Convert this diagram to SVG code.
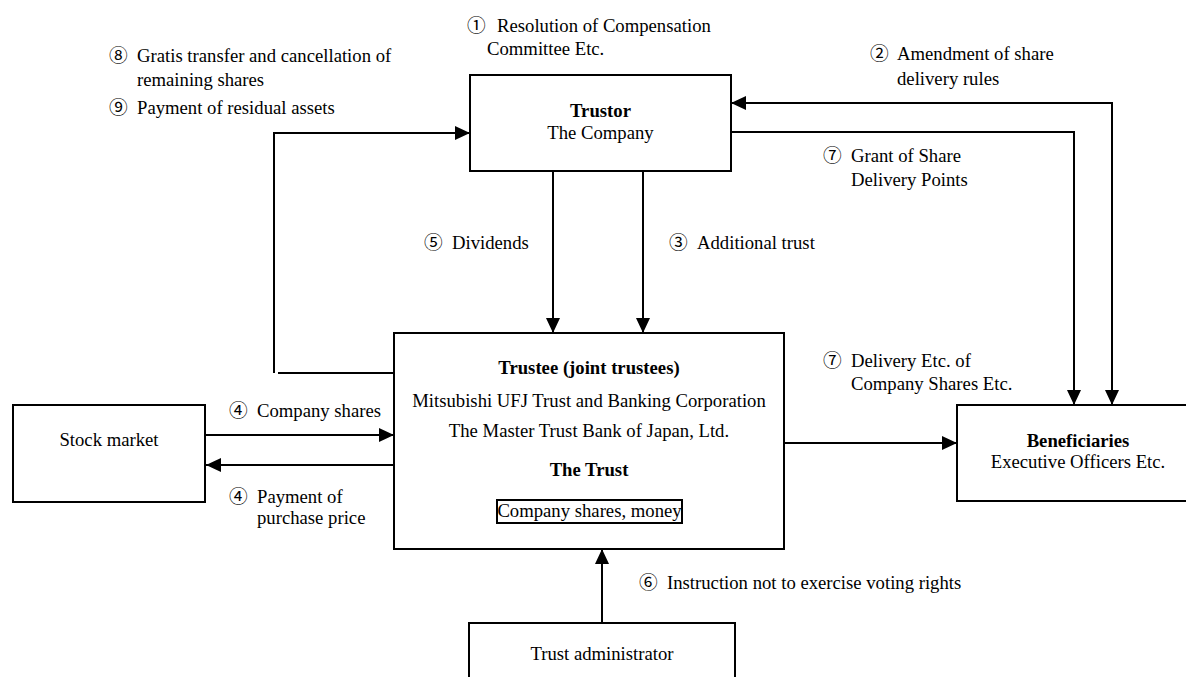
<svg xmlns="http://www.w3.org/2000/svg" width="1186" height="677" viewBox="0 0 1186 677">
<defs>
<marker id="ah" markerUnits="userSpaceOnUse" markerWidth="15" markerHeight="14" refX="15" refY="7" orient="auto">
<path d="M0,0 L15,7 L0,14 z" fill="#000"/>
</marker>
<marker id="ahs" markerUnits="userSpaceOnUse" markerWidth="15" markerHeight="14" refX="15" refY="7" orient="auto-start-reverse">
<path d="M0,0 L15,7 L0,14 z" fill="#000"/>
</marker>
<style>
text{font-family:"Liberation Serif","DejaVu Serif","Noto Sans CJK JP",serif;font-size:18.7px;fill:#000}
.b{font-weight:bold}
.m{text-anchor:middle}
.box{fill:#fff;stroke:#000;stroke-width:2}
.ln{fill:none;stroke:#000;stroke-width:2}
</style>
</defs>
<rect width="1186" height="677" fill="#fff"/>

<g id="connectors">
<path class="ln" d="M397,373 H278"/>
<path class="ln" d="M274,373 V133 H470" marker-end="url(#ah)"/>
<path class="ln" d="M731,103 H1112 V405" marker-start="url(#ahs)" marker-end="url(#ah)"/>
<path class="ln" d="M731,132 H1074 V405" marker-end="url(#ah)"/>
<path class="ln" d="M553,171 V333" marker-end="url(#ah)"/>
<path class="ln" d="M643,171 V333" marker-end="url(#ah)"/>
<path class="ln" d="M205,435 H394" marker-end="url(#ah)"/>
<path class="ln" d="M394,465 H206" marker-end="url(#ah)"/>
<path class="ln" d="M784,443 H957" marker-end="url(#ah)"/>
<path class="ln" d="M602,623 V549" marker-end="url(#ah)"/>
</g>

<g id="trustor">
<rect class="box" x="470" y="75" width="261" height="96"/>
<text class="b m" x="600.5" y="117">Trustor</text>
<text class="m" x="600.5" y="139">The Company</text>
</g>

<g id="trustee">
<rect class="box" x="394" y="333" width="390" height="216"/>
<text class="b m" x="589" y="374">Trustee (joint trustees)</text>
<text class="m" x="589" y="407">Mitsubishi UFJ Trust and Banking Corporation</text>
<text class="m" x="589" y="437">The Master Trust Bank of Japan, Ltd.</text>
<text class="b m" x="589" y="476">The Trust</text>
<rect class="box" x="497" y="500" width="185" height="23"/>
<text class="m" x="589.5" y="517">Company shares, money</text>
</g>

<g id="stock-market">
<rect class="box" x="13" y="405" width="192" height="97"/>
<text class="m" x="109" y="446">Stock market</text>
</g>

<g id="beneficiaries">
<rect class="box" x="957" y="405" width="243" height="96"/>
<text class="b m" x="1078" y="447">Beneficiaries</text>
<text class="m" x="1078" y="468">Executive Officers Etc.</text>
</g>

<g id="trust-administrator">
<rect class="box" x="469" y="623" width="266" height="80"/>
<text class="m" x="602" y="660">Trust administrator</text>
</g>

<g id="labels">
<text x="467" y="32">①</text><text x="497" y="32">Resolution of Compensation</text>
<text x="487" y="55">Committee Etc.</text>
<text x="109" y="62">⑧</text><text x="137" y="62">Gratis transfer and cancellation of</text>
<text x="137" y="86">remaining shares</text>
<text x="109" y="114">⑨</text><text x="137" y="114">Payment of residual assets</text>
<text x="870" y="60">②</text><text x="897" y="60">Amendment of share</text>
<text x="897" y="85">delivery rules</text>
<text x="823" y="162">⑦</text><text x="851" y="162">Grant of Share</text>
<text x="851" y="186">Delivery Points</text>
<text x="424" y="249">⑤</text><text x="452" y="249">Dividends</text>
<text x="669" y="249">③</text><text x="697" y="249">Additional trust</text>
<text x="229" y="417">④</text><text x="257" y="417">Company shares</text>
<text x="229" y="503">④</text><text x="257" y="503">Payment of</text>
<text x="257" y="524">purchase price</text>
<text x="823" y="367">⑦</text><text x="851" y="367">Delivery Etc. of</text>
<text x="851" y="390">Company Shares Etc.</text>
<text x="639" y="589">⑥</text><text x="667" y="589">Instruction not to exercise voting rights</text>
</g>
</svg>
